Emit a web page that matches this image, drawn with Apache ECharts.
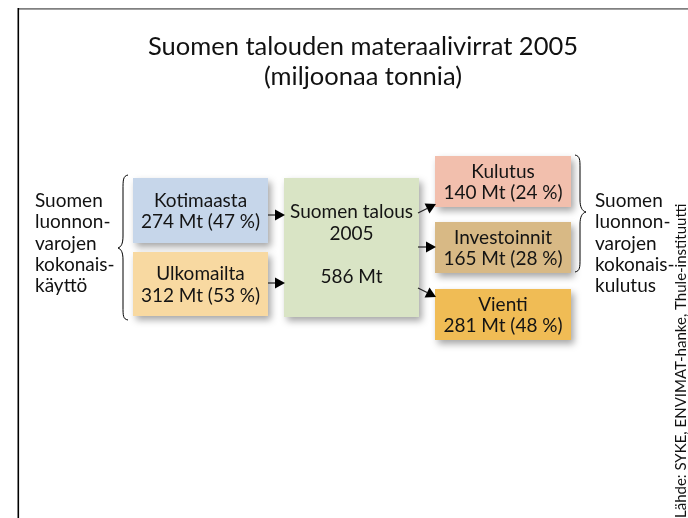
<!DOCTYPE html>
<html>
<head>
<meta charset="utf-8">
<title>Suomen talouden materaalivirrat 2005</title>
<script src="https://cdn.jsdelivr.net/npm/echarts@6/dist/echarts.min.js"></script>
<style>
    html, body { margin: 0; padding: 0; background: #fff; }
    #main { width: 688px; height: 518px; }
</style>
</head>
<body>
<div id="main"></div>
<script>
// chart data
var titleLines = ['Suomen talouden materaalivirrat 2005', '(miljoonaa tonnia)'];
var sourceNames = ['Kotimaasta', 'Ulkomailta'];
var sourceValues = [274, 312];
var economyName = 'Suomen talous';
var economyYear = 2005;
var economyTotal = 586;
var useNames = ['Kulutus', 'Investoinnit', 'Vienti'];
var useValues = [140, 165, 281];
var unit = 'Mt';
var leftLabel = ['Suomen', 'luonnon-', 'varojen', 'kokonais-', 'käyttö'];
var rightLabel = ['Suomen', 'luonnon-', 'varojen', 'kokonais-', 'kulutus'];
var sourceNote = 'Lähde: SYKE, ENVIMAT-hanke, Thule-instituutti';

// layout (pixels) and colours
var FONT = 'Lato';
var boxLayout = {
    'Kotimaasta':    { x: 133, y: 178, w: 135, h: 65,  color: '#c6d6ea', dy: 1 },
    'Ulkomailta':    { x: 133, y: 252, w: 135, h: 64,  color: '#f8d9a1', dy: 1 },
    'Suomen talous': { x: 284, y: 178, w: 135, h: 139, color: '#d9e4c5', dy: -3 },
    'Kulutus':       { x: 435, y: 156, w: 136, h: 51,  color: '#f2bfad', dy: 1 },
    'Investoinnit':  { x: 435, y: 222, w: 136, h: 51,  color: '#d8b985', dy: 1 },
    'Vienti':        { x: 435, y: 289, w: 136, h: 51,  color: '#f0bc55', dy: 1 }
};
var arrowLayout = {
    'Kotimaasta':   [[268, 215], [285, 215]],
    'Ulkomailta':   [[268, 283], [285, 283]],
    'Kulutus':      [[418, 213], [436, 204]],
    'Investoinnit': [[418, 247], [436, 247]],
    'Vienti':       [[418, 288], [436, 297]]
};
var bracePaths = [
    'M128 175 C123 176 123 180 123 190 L123 236 C123 244 121 247 118 248 C121 249 123 252 123 260 L123 306 C123 316 123 319 128 320',
    'M575 155 C580 156 580 160 580 168 L580 200 C580 207 582 211 586 212 C582 213 580 217 580 224 L580 259 C580 267 580 271 575 272'
];

function pct(v) {
    return Math.round(v / economyTotal * 100);
}

var boxes = [];
sourceNames.forEach(function (n, i) {
    boxes.push({ name: n, text: n + '\n' + sourceValues[i] + ' ' + unit + ' (' + pct(sourceValues[i]) + ' %)' });
});
boxes.push({ name: economyName, text: economyName + '\n' + economyYear + '\n\n' + economyTotal + ' ' + unit });
useNames.forEach(function (n, i) {
    boxes.push({ name: n, text: n + '\n' + useValues[i] + ' ' + unit + ' (' + pct(useValues[i]) + ' %)' });
});

var edges = [];
sourceNames.forEach(function (n) { edges.push({ from: n, to: economyName, key: n }); });
useNames.forEach(function (n) { edges.push({ from: economyName, to: n, key: n }); });

function renderBox(params) {
    var b = boxes[params.dataIndex];
    var L = boxLayout[b.name];
    return {
        type: 'group',
        children: [{
            type: 'rect',
            shape: { x: L.x, y: L.y, width: L.w, height: L.h },
            style: {
                fill: L.color,
                shadowBlur: 7,
                shadowOffsetX: 3,
                shadowOffsetY: 4,
                shadowColor: 'rgba(0,0,0,0.35)'
            }
        }, {
            type: 'text',
            style: {
                text: b.text,
                x: L.x + L.w / 2,
                y: L.y + L.h / 2 + L.dy,
                align: 'center',
                verticalAlign: 'middle',
                fontSize: 19,
                fontFamily: FONT,
                lineHeight: 21.5,
                fill: '#141414'
            }
        }]
    };
}

function renderArrow(params) {
    var a = arrowLayout[edges[params.dataIndex].key];
    var x1 = a[0][0], y1 = a[0][1], x2 = a[1][0], y2 = a[1][1];
    var dx = x2 - x1, dy = y2 - y1;
    var len = Math.sqrt(dx * dx + dy * dy);
    var ux = dx / len, uy = dy / len;
    var hl = 10, hw = 5.5;
    var bx = x2 - ux * hl, by = y2 - uy * hl;
    return {
        type: 'group',
        children: [{
            type: 'line',
            shape: { x1: x1, y1: y1, x2: bx, y2: by },
            style: { stroke: '#222', lineWidth: 1.2 }
        }, {
            type: 'polygon',
            shape: { points: [[x2, y2], [bx - uy * hw, by + ux * hw], [bx + uy * hw, by - ux * hw]] },
            style: { fill: '#000' }
        }]
    };
}

function renderBrace(params) {
    return {
        type: 'path',
        shape: { pathData: bracePaths[params.dataIndex] },
        style: { stroke: '#000', fill: null, lineWidth: 1 }
    };
}

var graphics = [
    // frame
    { type: 'rect', shape: { x: 18, y: 8, width: 670, height: 1.8 }, style: { fill: '#808080' } },
    { type: 'rect', shape: { x: 17.5, y: 8, width: 1.6, height: 510 }, style: { fill: '#000' } },
    // source note
    {
        type: 'text',
        x: 681, y: 518,
        rotation: Math.PI / 2,
        style: { text: sourceNote, align: 'left', verticalAlign: 'middle', fontSize: 15, fontFamily: FONT, fill: '#111' }
    }
];

titleLines.forEach(function (t, i) {
    graphics.push({
        type: 'text',
        x: 363, y: 47 + i * 30,
        style: { text: t, align: 'center', verticalAlign: 'middle', fontSize: 25.5, fontFamily: FONT, fill: '#111' }
    });
});
leftLabel.forEach(function (t, i) {
    graphics.push({
        type: 'text',
        x: 35, y: 201 + i * 21.3,
        style: { text: t, align: 'left', verticalAlign: 'middle', fontSize: 19, fontFamily: FONT, fill: '#111' }
    });
});
rightLabel.forEach(function (t, i) {
    graphics.push({
        type: 'text',
        x: 595, y: 201 + i * 21.3,
        style: { text: t, align: 'left', verticalAlign: 'middle', fontSize: 19, fontFamily: FONT, fill: '#111' }
    });
});

var option = {
    animation: false,
    backgroundColor: '#fff',
    graphic: graphics,
    series: [{
        type: 'custom',
        name: 'boxes',
        coordinateSystem: 'none',
        renderItem: renderBox,
        data: boxes.map(function (b) { return { name: b.name, value: [0] }; })
    }, {
        type: 'custom',
        name: 'flows',
        coordinateSystem: 'none',
        renderItem: renderArrow,
        z: 3,
        data: edges.map(function (e) { return { name: e.from + ' → ' + e.to, value: [0] }; })
    }, {
        type: 'custom',
        name: 'braces',
        coordinateSystem: 'none',
        renderItem: renderBrace,
        data: bracePaths.map(function (p, i) { return { name: 'brace ' + (i + 1), value: [0] }; })
    }]
};

var myChart = echarts.init(document.getElementById('main'));
myChart.setOption(option);
</script>
</body>
</html>
